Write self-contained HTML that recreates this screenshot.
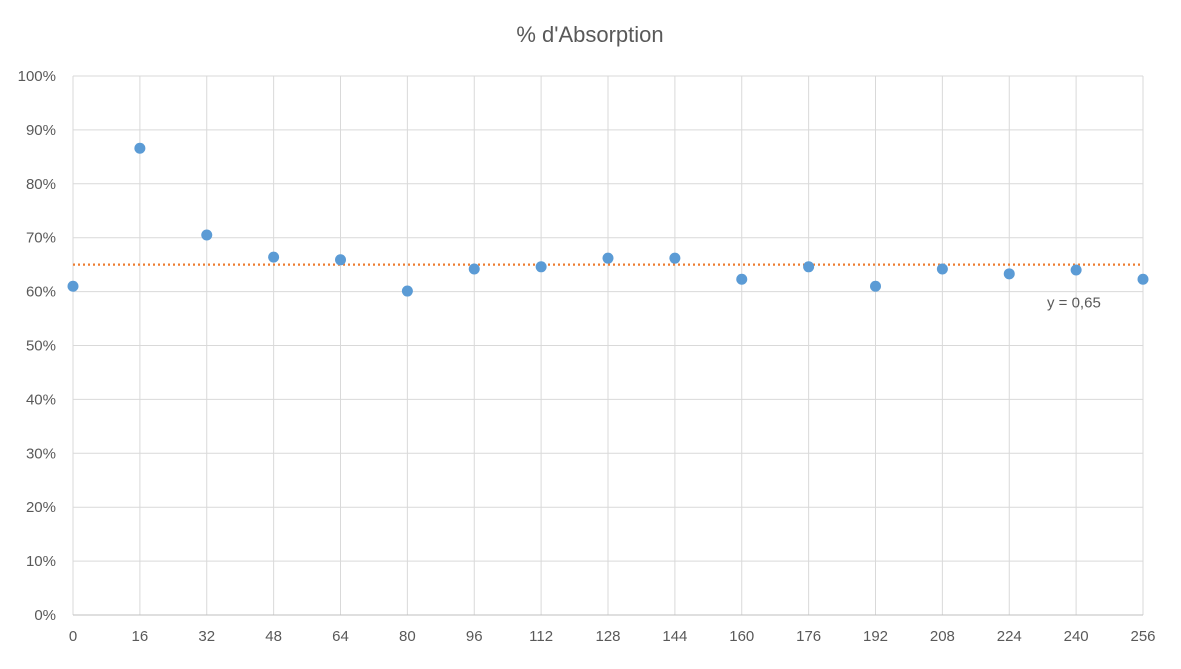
<!DOCTYPE html>
<html><head><meta charset="utf-8"><style>
body{margin:0;background:#fff;font-family:"Liberation Sans",sans-serif;}
svg text{font-family:"Liberation Sans",sans-serif;fill:#595959;}
</style></head><body>
<svg id="chart" width="1181" height="664"></svg>
<script>
const xCats=[0,16,32,48,64,80,96,112,128,144,160,176,192,208,224,240,256];
const yVals=[0.61,0.866,0.705,0.664,0.659,0.601,0.642,0.646,0.662,0.662,0.623,0.646,0.61,0.642,0.633,0.64,0.623];
const yTicks=[0,0.1,0.2,0.3,0.4,0.5,0.6,0.7,0.8,0.9,1];
const trendValue=[0.65];
const NS="http://www.w3.org/2000/svg";
const svg=document.getElementById('chart');
const L=73,R=1143,T=76,B=615;
const xs=v=>L+(v-0)/(256-0)*(R-L);
const ys=v=>B-v*(B-T);
function mk(t,a,p){const e=document.createElementNS(NS,t);for(const k in a)e.setAttribute(k,a[k]);(p||svg).appendChild(e);return e;}
const title=mk('text',{x:590,y:42,'text-anchor':'middle','font-size':22});
title.textContent="% d'Absorption";


yTicks.forEach(t=>{
  const g=mk('line',{x1:L,x2:R,y1:ys(t),y2:ys(t),stroke:'#d9d9d9','stroke-width':1});
  
  
  const tx=mk('text',{x:56,y:ys(t)+5,'text-anchor':'end','font-size':15});
  tx.textContent=Math.round(t*100)+'%';
  
  
});
xCats.forEach(c=>{
  const g=mk('line',{x1:xs(c),x2:xs(c),y1:T,y2:B,stroke:'#d9d9d9','stroke-width':1});
  
  
  const tx=mk('text',{x:xs(c),y:641,'text-anchor':'middle','font-size':15});
  tx.textContent=c;
  
  
});
const ax=mk('line',{x1:L,x2:R,y1:B,y2:B,stroke:'#bfbfbf','stroke-width':1});


const tl=mk('line',{x1:L,x2:R,y1:ys(trendValue[0]),y2:ys(trendValue[0]),stroke:'#ed7d31','stroke-width':2.2,'stroke-dasharray':'2 3'});


const tt=mk('text',{x:1047,y:ys(trendValue[0])+43,'font-size':15});
tt.textContent='y = '+String(trendValue[0]).replace('.',',');


xCats.forEach((c,i)=>{
  const p=mk('circle',{cx:xs(c),cy:ys(yVals[i]),r:5.5,fill:'#5b9bd5'});
  
  
});
</script>
</body></html>
